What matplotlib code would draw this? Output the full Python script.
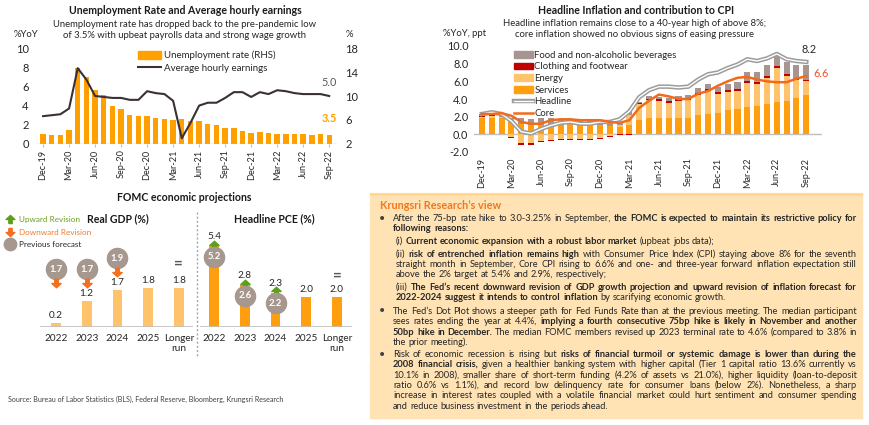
import matplotlib
matplotlib.use('Agg')
import matplotlib.pyplot as plt
import matplotlib.patheffects as pe
from matplotlib.patches import Rectangle, Patch
from matplotlib.lines import Line2D
import numpy as np

plt.rcParams['font.family'] = ['Lato', 'DejaVu Sans']

# ---------------- data ----------------
tick_labels = ['Dec-19', 'Mar-20', 'Jun-20', 'Sep-20', 'Dec-20', 'Mar-21',
               'Jun-21', 'Sep-21', 'Dec-21', 'Mar-22', 'Jun-22', 'Sep-22']

unemp = [3.6, 3.5, 3.5, 4.4, 14.7, 13.2, 11.0, 10.2, 8.4, 7.9, 6.9, 6.7, 6.7,
         6.4, 6.2, 6.0, 6.1, 5.8, 5.9, 5.4, 5.2, 4.7, 4.6, 4.2, 3.9, 4.0, 3.8,
         3.6, 3.6, 3.6, 3.6, 3.5, 3.7, 3.5]
earnings = [2.9, 3.0, 3.1, 3.7, 7.9, 6.7, 5.0, 4.9, 4.8, 4.8, 4.6, 4.6, 5.5,
            5.3, 5.2, 4.5, 0.6, 2.2, 4.0, 4.3, 4.3, 4.8, 5.4, 5.4, 4.9, 5.4,
            5.2, 5.6, 5.5, 5.3, 5.2, 5.2, 5.2, 5.0]

headline = [2.3, 2.5, 2.3, 1.5, 0.3, 0.1, 0.6, 1.0, 1.3, 1.4, 1.2, 1.2, 1.4,
            1.4, 1.7, 2.6, 4.2, 5.0, 5.4, 5.4, 5.3, 5.4, 6.2, 6.8, 7.0, 7.5,
            7.9, 8.5, 8.3, 8.6, 9.1, 8.5, 8.3, 8.2]
core = [2.3, 2.3, 2.4, 2.1, 1.4, 1.2, 1.2, 1.6, 1.7, 1.7, 1.6, 1.6, 1.6, 1.4,
        1.3, 1.6, 3.0, 3.8, 4.5, 4.3, 4.0, 4.0, 4.6, 4.9, 5.5, 6.0, 6.4, 6.5,
        6.2, 6.0, 5.9, 5.9, 6.3, 6.6]
services = [1.8, 1.9, 1.9, 1.7, 1.2, 1.1, 1.1, 1.2, 1.2, 1.2, 1.2, 1.1, 1.1,
            1.0, 0.8, 1.1, 1.6, 1.9, 1.9, 1.8, 1.8, 1.9, 2.2, 2.3, 2.4, 2.7,
            2.9, 3.1, 3.2, 3.4, 3.7, 3.8, 4.1, 4.5]
energy = [0.2, 0.2, 0.1, -0.3, -1.0, -1.0, -0.7, -0.6, -0.5, -0.5, -0.5, -0.5,
          -0.4, -0.2, 0.3, 1.1, 1.8, 2.0, 1.9, 1.8, 2.0, 2.0, 2.3, 2.6, 2.2,
          2.1, 2.0, 2.7, 2.5, 3.0, 3.8, 2.8, 2.0, 1.5]
clothing = [0.05, 0.05, 0.0, -0.1, -0.2, -0.2, -0.15, -0.15, -0.1, -0.1, -0.1,
            -0.1, -0.1, -0.05, -0.05, -0.05, 0.1, 0.15, 0.15, 0.2, 0.2, 0.2,
            0.2, 0.2, 0.2, 0.2, 0.2, 0.2, 0.2, 0.2, 0.2, 0.2, 0.2, 0.2]
food = [0.2, 0.2, 0.2, 0.2, 0.6, 0.6, 0.7, 0.7, 0.5, 0.4, 0.3, 0.4, 0.4, 0.3,
        0.3, 0.3, 0.2, 0.3, 0.3, 0.3, 0.3, 0.4, 0.5, 0.6, 0.6, 0.7, 0.8, 1.1,
        1.2, 1.3, 1.3, 1.4, 1.5, 1.6]

proj_years = ['2022', '2023', '2024', '2025', 'Longer\nrun']
gdp = [0.2, 1.2, 1.7, 1.8, 1.8]
gdp_prev = [1.7, 1.7, 1.9, None, None]
pce = [5.4, 2.8, 2.3, 2.0, 2.0]
pce_prev = [5.2, 2.6, 2.2, None, None]

W, H = 870, 425
fig = plt.figure(figsize=(W / 100, H / 100), dpi=100)
fig.patch.set_facecolor('white')


def box(l, t, r, b):
    return [l / W, 1 - b / H, (r - l) / W, (b - t) / H]


txtc = '#262626'

# ---------------- unemployment chart ----------------
n = len(unemp)
x = np.arange(n)
tick_pos = x[::3]

ax1 = fig.add_axes(box(37, 48, 337, 144))
ax1r = ax1.twinx()
ax1r.bar(x, unemp, width=0.62, color='#FFA000', bottom=0)
ax1r.set_ylim(2, 18)
ax1r.set_yticks([2, 6, 10, 14, 18])
ax1.plot(x, earnings, color='#3B3035', lw=1.5)
ax1.set_ylim(0, 10)
ax1.set_yticks(range(0, 11, 2))
ax1.set_xlim(-0.7, 33.9)
ax1.set_zorder(ax1r.get_zorder() + 1)
ax1.patch.set_visible(False)
ax1r.patch.set_visible(False)
ax1.axhline(0, color='#BFBFBF', lw=1)
ax1.set_xticks(tick_pos)
ax1.set_xticklabels(tick_labels, rotation=90, fontsize=6.6, color=txtc)
for a in (ax1, ax1r):
    for s in a.spines.values():
        s.set_visible(False)
    a.tick_params(axis='y', length=0, labelsize=8, labelcolor=txtc, pad=6)
ax1.tick_params(axis='x', length=2, color='#BFBFBF', pad=2)
ax1r.tick_params(axis='x', length=0)
ax1.annotate(f'{earnings[-1]:.1f}', (x[-1], earnings[-1]), xytext=(0, 6),
             textcoords='offset points', ha='center', va='bottom',
             fontsize=7.8, color='#595959')
ax1r.annotate(f'{unemp[-1]:.1f}', (x[-1], unemp[-1]), xytext=(0, 8),
              textcoords='offset points', ha='center', va='bottom',
              fontsize=7.8, color='#FFA000', fontweight='bold')
fig.legend(handles=[Patch(color='#FFA000', label='Unemployment rate (RHS)'),
                    Line2D([], [], color='#3B3035', lw=1.5,
                           label='Average hourly earnings')],
           loc='upper left', bbox_to_anchor=(133 / W, 1 - 46 / H),
           frameon=False, fontsize=7, handlelength=2.4, handleheight=0.8,
           labelspacing=0.35, handletextpad=0.3, borderpad=0, labelcolor=txtc)

# ---------------- CPI chart ----------------
ax2 = fig.add_axes(box(474, 46, 822, 152))
ax2.patch.set_visible(False)
pos_b = np.zeros(n)
neg_b = np.zeros(n)
comps = [(services, '#FF9F10'), (energy, '#FFC46B'),
         (clothing, '#C00000'), (food, '#A89490')]
for vals, col in comps:
    v = np.array(vals)
    b = np.where(v >= 0, pos_b, neg_b)
    ax2.bar(x, v, bottom=b, width=0.62, color=col, zorder=2)
    pos_b += np.clip(v, 0, None)
    neg_b += np.clip(v, None, 0)
ax2.axhline(0, color='#BFBFBF', lw=1, zorder=1)
ax2.plot(x, headline, color='white', lw=1.0, zorder=3,
         path_effects=[pe.Stroke(linewidth=3.2, foreground='#9C9C9C'),
                       pe.Normal()])
ax2.plot(x, core, color='#F26A1B', lw=1.8, zorder=4)
ax2.set_ylim(-2, 10)
ax2.set_yticks(range(-2, 11, 2))
ax2.set_yticklabels([f'{v:.1f}' for v in range(-2, 11, 2)])
ax2.set_xlim(-0.81, 34.6)
ax2.set_xticks(tick_pos)
ax2.set_xticklabels(tick_labels, rotation=90, fontsize=6.6, color=txtc)
for s in ax2.spines.values():
    s.set_visible(False)
ax2.tick_params(axis='y', length=0, labelsize=7.8, labelcolor=txtc, pad=4)
ax2.tick_params(axis='x', length=0, pad=4)
ax2.annotate(f'{headline[-1]:.1f}', (x[-1], headline[-1]), xytext=(2, 5),
             textcoords='offset points', ha='center', va='bottom',
             fontsize=7.8, color='#262626')
ax2.annotate(f'{core[-1]:.1f}', (x[-1], core[-1]), xytext=(5, 2),
             textcoords='offset points', ha='left', va='center',
             fontsize=7.8, color='#F04E23')
hl_handle = Line2D([], [], color='white', lw=1.0,
                   path_effects=[pe.Stroke(linewidth=3.2, foreground='#9C9C9C'),
                                 pe.Normal()], label='Headline')
fig.legend(handles=[Patch(color='#A89490', label='Food and non-alcoholic beverages'),
                    Patch(color='#C00000', label='Clothing and footwear'),
                    Patch(color='#FFC46B', label='Energy'),
                    Patch(color='#FF9F10', label='Services'),
                    hl_handle,
                    Line2D([], [], color='#F26A1B', lw=1.8, label='Core')],
           loc='upper left', bbox_to_anchor=(509 / W, 1 - 46 / H),
           frameon=False, fontsize=6.8, handlelength=2.0, handleheight=0.7,
           labelspacing=0.28, handletextpad=0.2, borderpad=0, labelcolor=txtc)

# ---------------- FOMC projections ----------------
up_m = [(-0.25, -0.6), (0.25, -0.6), (0.25, 0), (0.65, 0), (0, 0.6),
        (-0.65, 0), (-0.25, 0), (-0.25, -0.6)]
dn_m = [(px, -py) for px, py in up_m]
green, orange_dn, circ = '#5E9E1E', '#F4701E', '#A6978F'

px_ = np.arange(len(proj_years))
axg = fig.add_axes(box(40, 240, 193, 327))
axg.bar(px_, gdp, width=0.32, color='#FFC46B')
axg.set_xlim(-0.52, 4.46)
axg.set_ylim(0, 4.0)
for i, (v, pv) in enumerate(zip(gdp, gdp_prev)):
    axg.annotate(f'{v:.1f}', (i, v), xytext=(0, 2), textcoords='offset points',
                 ha='center', va='bottom', fontsize=7.2, color=txtc)
    if pv is not None:
        cy = max(v, 1.2) + 1.45
        axg.scatter([i], [cy], s=210, color=circ, zorder=3, clip_on=False)
        axg.text(i, cy, f'{pv:.1f}', ha='center', va='center', fontsize=6.8,
                 color='white', fontweight='bold', zorder=4)
        axg.scatter([i], [cy - 0.62], s=45, marker=dn_m, color=orange_dn, zorder=3)
axg.text(4, gdp[4] + 1.1, '=', ha='center', va='center', fontsize=11,
         color='#595959', fontweight='bold')

axp = fig.add_axes(box(200, 227, 352, 327))
axp.bar(px_, pce, width=0.32, color='#FF9F10')
axp.set_xlim(-0.46, 4.49)
axp.set_ylim(0, 100 / 15)
for i, (v, pv) in enumerate(zip(pce, pce_prev)):
    if pv is not None:
        axp.scatter([i], [v + 0.1], s=45, marker=up_m, color=green, zorder=3)
        axp.text(i, v + 0.62, f'{v:.1f}', ha='center', va='center',
                 fontsize=7.2, color=txtc)
        axp.scatter([i], [v - 0.72], s=210, color=circ, zorder=3)
        axp.text(i, v - 0.72, f'{pv:.1f}', ha='center', va='center',
                 fontsize=6.8, color='white', fontweight='bold', zorder=4)
    else:
        axp.annotate(f'{v:.1f}', (i, v), xytext=(0, 2), textcoords='offset points',
                     ha='center', va='bottom', fontsize=7.2, color=txtc)
axp.text(4, pce[4] + 1.45, '=', ha='center', va='center', fontsize=11,
         color='#595959', fontweight='bold')

for a in (axg, axp):
    a.patch.set_visible(False)
    for s in a.spines.values():
        s.set_visible(False)
    a.axhline(0, color='#BFBFBF', lw=1.2)
    a.set_yticks([])
    a.set_xticks(px_)
    a.set_xticklabels(proj_years, fontsize=7.2, color=txtc, linespacing=1.1)
    a.tick_params(axis='x', length=0, pad=5)

# ---------------- overlay: titles, text box ----------------
ov = fig.add_axes([0, 0, 1, 1])
ov.set_xlim(0, W)
ov.set_ylim(H, 0)
ov.axis('off')
ov.set_zorder(-1)

ov.text(185, 10, 'Unemployment Rate and Average hourly earnings', ha='center',
        va='center', fontsize=7.6, fontweight='bold', color='#1a1a1a')
ov.text(185, 30, 'Unemployment rate has dropped back to the pre-pandemic low\n'
        'of 3.5% with upbeat payrolls data and strong wage growth',
        ha='center', va='center', fontsize=6.8, color=txtc, linespacing=1.15)
ov.text(14, 34, '%YoY', ha='left', va='center', fontsize=6.8, color=txtc)
ov.text(346, 34, '%', ha='left', va='center', fontsize=6.8, color=txtc)

ov.text(636, 10, 'Headline Inflation and contribution to CPI', ha='center',
        va='center', fontsize=7.6, fontweight='bold', color='#1a1a1a')
ov.text(635, 29, 'Headline inflation remains close to a 40-year high of above 8%;\n'
        'core inflation showed no obvious signs of easing pressure',
        ha='center', va='center', fontsize=6.8, color=txtc, linespacing=1.15)
ov.text(443, 33, '%YoY, ppt', ha='left', va='center', fontsize=6.8, color=txtc)

ov.text(184, 197, 'FOMC economic projections', ha='center', va='center',
        fontsize=7.6, fontweight='bold', color='#1a1a1a')
ov.text(118, 219, 'Real GDP (%)', ha='center', va='center', fontsize=7.6,
        fontweight='bold', color='#1a1a1a')
ov.text(274, 219, 'Headline PCE (%)', ha='center', va='center', fontsize=7.6,
        fontweight='bold', color='#1a1a1a')
ov.scatter([10], [219], s=40, marker=up_m, color=green)
ov.scatter([10], [232], s=40, marker=dn_m, color=orange_dn)
ov.scatter([10], [244], s=80, color=circ)
ov.text(19, 219, 'Upward Revision', va='center', fontsize=5.9, color='#6AA121')
ov.text(19, 232, 'Downward Revision', va='center', fontsize=5.9, color='#F47B2A')
ov.text(19, 244, 'Previous forecast', va='center', fontsize=5.9, color=txtc)
ov.plot([197, 197], [212, 357], color='#A6A6A6', lw=1, ls=(0, (1.5, 1.5)))
ov.text(8, 399, 'Source: Bureau of Labor Statistics (BLS), Federal Reserve, '
        'Bloomberg, Krungsri Research', va='center', fontsize=5.1, color='#404040')

ov.add_patch(Rectangle((370, 193), 492, 225, color='#FFE3B5', zorder=0))
ov.plot([370, 862], [193.5, 193.5], color='#FFD08A', lw=1, zorder=1)
ov.text(380, 205, 'Krungsri Research\u2019s view', va='center', fontsize=7.8,
        fontweight='bold', color='#F07820')

B, I = 393, 396
R = 857
lines = [
    (B, 218, [('After the 75-bp rate hike to 3.0-3.25% in September,', 0),
              ('the FOMC is expected to maintain its restrictive policy for', 1)], True),
    (B, 228, [('following reasons:', 1)], False),
    (I, 241, [('(i)', 0), ('Current economic expansion with a robust labor market', 1),
              ('(upbeat jobs data);', 0)], False),
    (I, 254, [('(ii)', 0), ('risk of entrenched inflation remains high', 1),
              ('with Consumer Price Index (CPI) staying above 8% for the seventh', 0)], True),
    (I, 264, [('straight month in September, Core CPI rising to 6.6% and one- and '
               'three-year forward inflation expectation still', 0)], True),
    (I, 274, [('above the 2% target at 5.4% and 2.9%, respectively;', 0)], False),
    (I, 287, [('(iii)', 0), ('The Fed\u2019s recent downward revision of GDP growth '
                             'projection and upward revision of inflation forecast for', 1)], True),
    (I, 297, [('2022-2024 suggest it intends to control inflation', 1),
              ('by scarifying economic growth.', 0)], False),
    (B, 311, [('The Fed\u2019s Dot Plot shows a steeper path for Fed Funds Rate than '
               'at the previous meeting. The median participant', 0)], True),
    (B, 321, [('sees rates ending the year at 4.4%,', 0),
              ('implying a fourth consecutive 75bp hike is likely in November and another', 1)], True),
    (B, 332, [('50bp hike in December.', 1),
              ('The median FOMC members revised up 2023 terminal rate to 4.6% '
               '(compared to 3.8% in', 0)], True),
    (B, 342, [('the prior meeting).', 0)], False),
    (B, 354, [('Risk of economic recession is rising but', 0),
              ('risks of financial turmoil or systemic damage is lower than during the', 1)], True),
    (B, 364, [('2008 financial crisis,', 1),
              ('given a healthier banking system with higher capital (Tier 1 '
               'capital ratio 13.6% currently vs', 0)], True),
    (B, 375, [('10.1% in 2008), smaller share of short-term funding (4.2% of assets '
               'vs 21.0%), higher liquidity (loan-to-deposit', 0)], True),
    (B, 385, [('ratio 0.6% vs 1.1%), and record low delinquency rate for consumer '
               'loans (below 2%). Nonetheless, a sharp', 0)], True),
    (B, 395, [('increase in interest rates coupled with a volatile financial market '
               'could hurt sentiment and consumer spending', 0)], True),
    (B, 406, [('and reduce business investment in the periods ahead.', 0)], False),
]
bullets = [218, 311, 354]
BODYF = ['Liberation Sans Narrow', 'Lato', 'DejaVu Sans']

renderer = fig.canvas.get_renderer()


def measure(s, fs, bold):
    t = ov.text(0, 0, s, fontsize=fs, family=BODYF,
                fontweight='bold' if bold else 'normal')
    w = t.get_window_extent(renderer).width
    t.remove()
    return w


fs0 = 7.0
sp0 = measure('x x', fs0, False) - measure('xx', fs0, False)
info = []
ratios = []
for x0, y, segs, just in lines:
    words = [(w, b) for s, b in segs for w in s.split()]
    nat = sum(measure(w, fs0, b) for w, b in words) + sp0 * (len(words) - 1)
    info.append(nat)
    if just:
        ratios.append((R - x0) / nat)
fs_base = min(7.6, fs0 * float(np.percentile(ratios, 30)) * 0.985)

for (x0, y, segs, just), nat in zip(lines, info):
    words = [(w, b) for s, b in segs for w in s.split()]
    fs = min(fs_base, fs0 * (R - x0) / nat * 0.995)
    sp = sp0 * fs / fs0
    arts, widths = [], []
    for w, b in words:
        t = ov.text(0, y + 3, w, fontsize=fs, va='baseline', ha='left',
                    family=BODYF, fontweight='bold' if b else 'normal',
                    color=txtc)
        arts.append(t)
        widths.append(t.get_window_extent(renderer).width)
    gap = (R - x0 - sum(widths)) / (len(words) - 1) if just else sp
    xx = x0
    for t, w in zip(arts, widths):
        t.set_x(xx)
        xx += w + gap
for y in bullets:
    ov.text(382, y, '\u2022', ha='center', va='center', fontsize=fs_base + 1,
            color='#404040')

fig.savefig('out.png', dpi=100, facecolor='white')
